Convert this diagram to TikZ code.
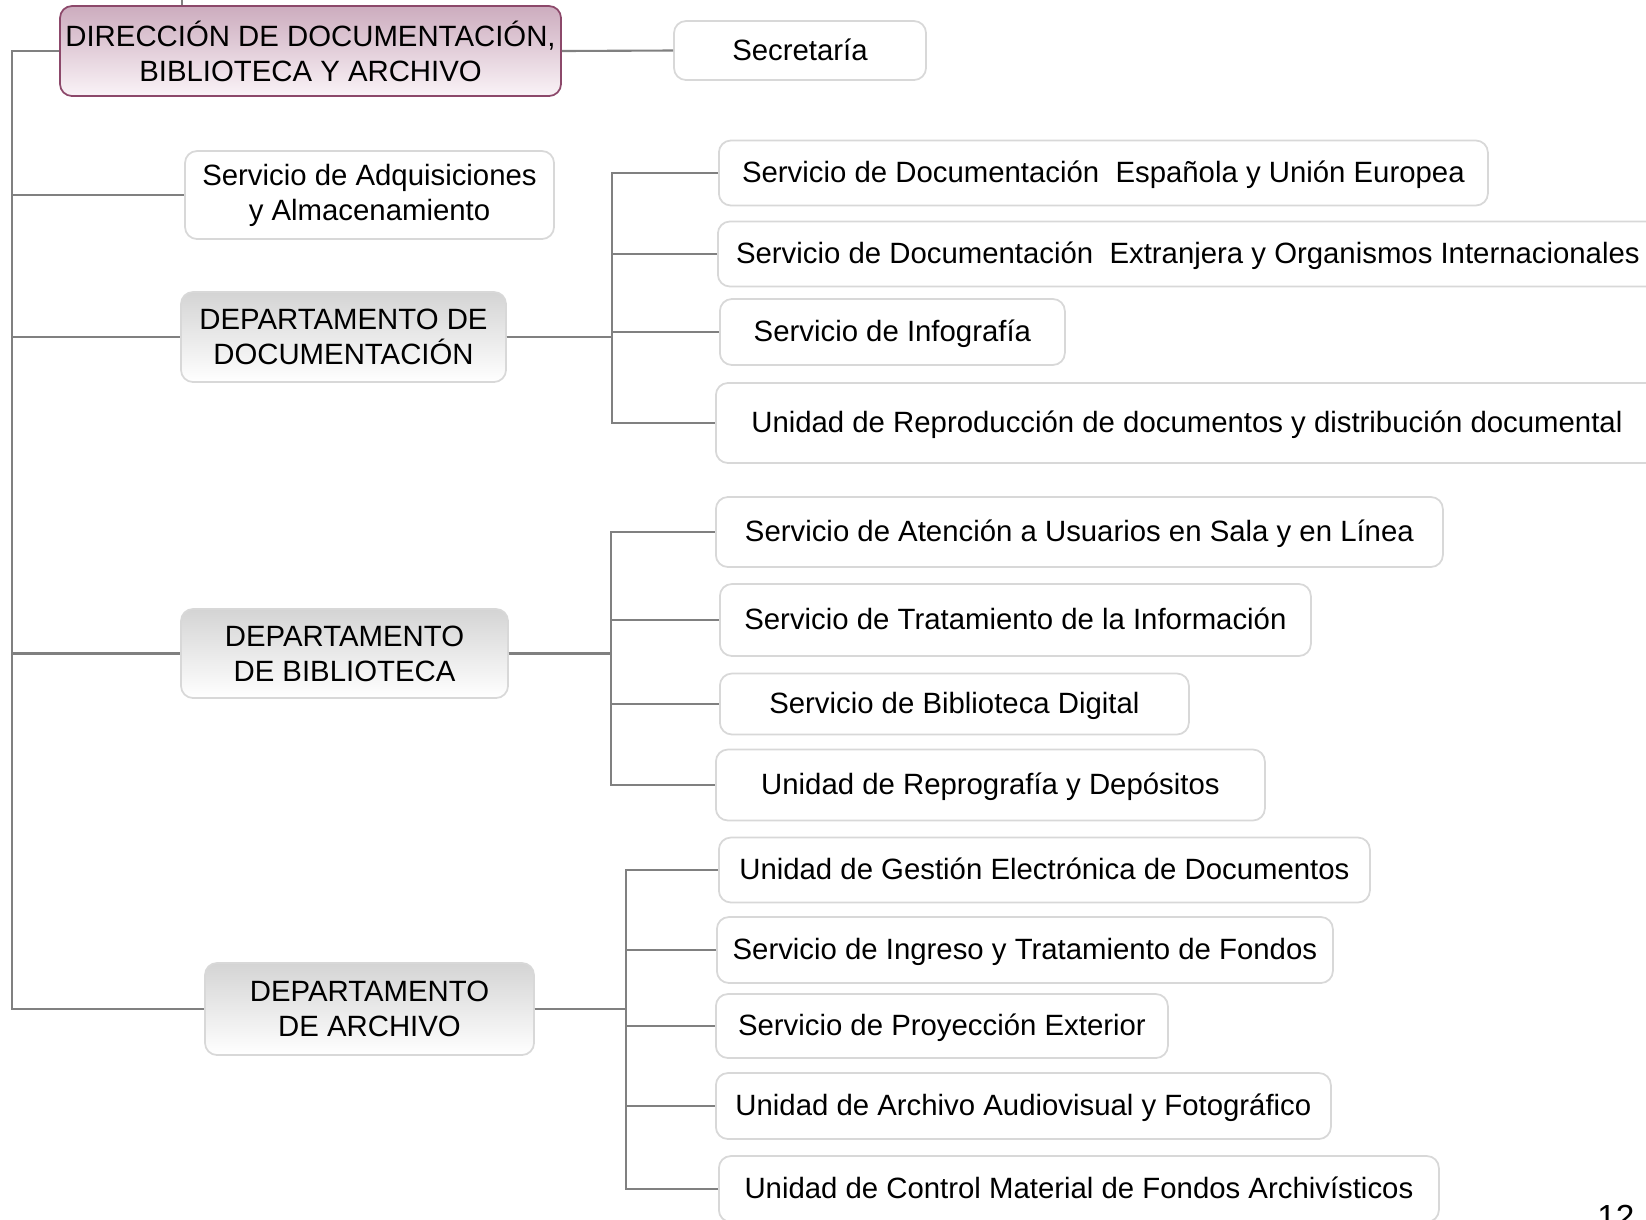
\documentclass[tikz,border=0pt]{standalone}
\usepackage{fontspec}
\setmainfont{Liberation Sans}
\usetikzlibrary{positioning, calc}

\definecolor{linegray}{RGB}{128,128,128}
\definecolor{boxline}{RGB}{216,216,216}
\definecolor{depttop}{RGB}{212,212,212}
\definecolor{headtop}{RGB}{204,172,190}
\definecolor{headbot}{RGB}{250,243,247}
\definecolor{headline}{RGB}{140,72,106}

\begin{document}
\begin{tikzpicture}[
    box/.style={draw=boxline, line width=1pt, rounded corners=0.24cm, fill=white, align=center,
        inner sep=0pt, font=\fontsize{16.7}{20}\selectfont},
    single/.style={box, text height=1.36em, text depth=0.27em},
    sbox/.style={single, anchor=west},
    dept/.style={box, top color=depttop, bottom color=white},
    head/.style={box, draw=headline, top color=headtop, bottom color=headbot},
    link/.style={draw=linegray, line width=1.2pt}]
    \useasboundingbox (0,0) rectangle (32.92,-24.38);

    % Nodes
    \node[head, minimum width=10.02cm, minimum height=1.80cm] (dir) at (6.21,-1.02)
        {DIRECCIÓN DE DOCUMENTACIÓN,\\BIBLIOTECA Y ARCHIVO};
    \node[single, minimum width=5.04cm, minimum height=1.18cm] (sec) at (16.00,-1.01) {Secretaría};
    \node[box, minimum width=7.38cm, minimum height=1.76cm] (adq) at (7.39,-3.90)
        {Servicio de Adquisiciones\\y Almacenamiento};
    \node[dept, minimum width=6.50cm, minimum height=1.80cm] (ddoc) at (6.87,-6.74)
        {DEPARTAMENTO DE\\DOCUMENTACIÓN};
    \node[dept, minimum width=6.54cm, minimum height=1.78cm] (dbib) at (6.89,-13.07)
        {DEPARTAMENTO\\DE BIBLIOTECA};
    \node[dept, minimum width=6.58cm, minimum height=1.84cm] (darch) at (7.39,-20.18)
        {DEPARTAMENTO\\DE ARCHIVO};

    % Documentacion
    \node[sbox, minimum width=15.38cm, minimum height=1.30cm] (doc1) at (14.36,-3.46)
        {Servicio de Documentación~ Española y Unión Europea};
    \node[sbox, minimum width=18.80cm, minimum height=1.30cm] (doc2) at (14.34,-5.08)
        {Servicio de Documentación~ Extranjera y Organismos Internacionales};
    \node[sbox, minimum width=6.90cm, minimum height=1.32cm] (doc3) at (14.38,-6.64)
        {Servicio de Infografía};
    \node[sbox, minimum width=18.84cm, minimum height=1.60cm] (doc4) at (14.30,-8.46)
        {Unidad de Reproducción de documentos y distribución documental};

    % Biblioteca
    \node[sbox, minimum width=14.54cm, minimum height=1.40cm] (bib1) at (14.30,-10.64)
        {Servicio de Atención a Usuarios en Sala y en Línea};
    \node[sbox, minimum width=11.82cm, minimum height=1.44cm] (bib2) at (14.38,-12.40)
        {Servicio de Tratamiento de la Información};
    \node[sbox, minimum width=9.38cm, minimum height=1.22cm] (bib3) at (14.38,-14.08)
        {Servicio de Biblioteca Digital};
    \node[sbox, minimum width=10.98cm, minimum height=1.42cm] (bib4) at (14.30,-15.70)
        {Unidad de Reprografía y Depósitos};

    % Archivo
    \node[sbox, minimum width=13.02cm, minimum height=1.30cm] (arch1) at (14.36,-17.40)
        {Unidad de Gestión Electrónica de Documentos};
    \node[sbox, minimum width=12.32cm, minimum height=1.32cm] (arch2) at (14.32,-19.00)
        {Servicio de Ingreso y Tratamiento de Fondos};
    \node[sbox, minimum width=9.04cm, minimum height=1.28cm] (arch3) at (14.30,-20.52)
        {Servicio de Proyección Exterior};
    \node[sbox, minimum width=12.30cm, minimum height=1.32cm] (arch4) at (14.30,-22.12)
        {Unidad de Archivo Audiovisual y Fotográfico};
    \node[sbox, minimum width=14.40cm, minimum height=1.32cm] (arch5) at (14.36,-23.78)
        {Unidad de Control Material de Fondos Archivísticos};

    % page number
    \node[anchor=north west, inner sep=0pt, font=\fontsize{19}{22}\selectfont] (pag) at (31.94,-24.10) {12};

    % Edges
    \coordinate (top) at (3.64,0);
    \coordinate (spine) at ([xshift=-0.94cm]dir.west);
    \coordinate (bdoc) at (12.24,0);
    \coordinate (bbib) at (12.22,0);
    \coordinate (barch) at (12.52,0);

    % stub above the head
    \draw[link] (top) -- (top |- dir.north);

    % head to Secretaria
    \draw[link] (dir.east) -- (sec.west);

    % head to the departments
    \foreach \n in {adq, ddoc, dbib, darch}
        \draw[link] (dir.west) -- (spine) |- (\n.west);

    % departments to their units
    \foreach \n in {doc1, doc2, doc3, doc4}
        \draw[link] (ddoc.east) -- (ddoc.east -| bdoc) |- (\n.west);
    \foreach \n in {bib1, bib2, bib3, bib4}
        \draw[link] (dbib.east) -- (dbib.east -| bbib) |- (\n.west);
    \foreach \n in {arch1, arch2, arch3, arch4, arch5}
        \draw[link] (darch.east) -- (darch.east -| barch) |- (\n.west);
\end{tikzpicture}
\end{document}
